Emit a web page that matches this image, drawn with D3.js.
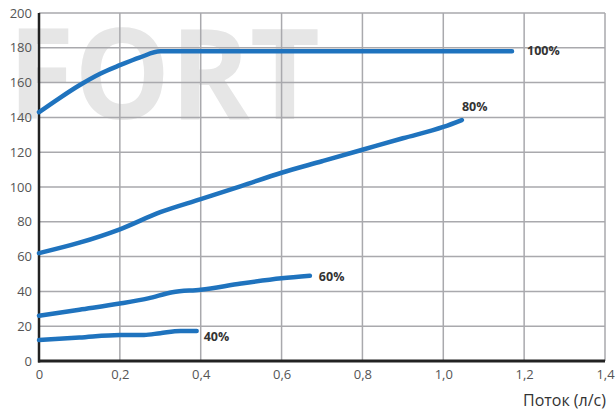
<!DOCTYPE html>
<html><head><meta charset="utf-8">
<script src="https://cdn.jsdelivr.net/npm/d3@7"></script>
<style>html,body{margin:0;padding:0;background:#fff;}svg{display:block;}</style>
</head><body>
<svg id="chart" width="616" height="410"></svg>
<script>
const xTicks = [0,0.2,0.4,0.6,0.8,1.0,1.2,1.4];
const yTicks = [0,20,40,60,80,100,120,140,160,180,200];
const seriesNames = ["100%","80%","60%","40%"];
const flow100 = [0,0.05,0.1,0.15,0.2,0.25,0.3,1.17];
const head100 = [143,151,158.5,165,170,174.5,178,178];
const flow80 = [0,0.1,0.2,0.3,0.4,0.5,0.6,0.7,0.8,0.9,1.0,1.046];
const head80 = [62,68,75.7,85.5,93,100.5,108.2,114.8,121.4,128,134.5,138.5];
const flow60 = [0,0.1,0.2,0.27,0.33,0.4,0.5,0.6,0.67];
const head60 = [26,29.5,33,36,39.5,41,44.5,47.5,49];
const flow40 = [0,0.1,0.2,0.26,0.3,0.35,0.39];
const head40 = [12,13.5,15,15,16,17.2,17.2];

const svg = d3.select("#chart");
const x = d3.scaleLinear().domain([0,1.4]).range([39,605]);
const y = d3.scaleLinear().domain([0,200]).range([361,13]);

// watermark
svg.append("text").attr("x",8).attr("y",119)
  .attr("textLength",312).attr("lengthAdjust","spacingAndGlyphs")
  .style("font-family","'Open Sans', sans-serif").style("font-weight","bold")
  .style("font-size","126px").attr("fill","#e6e6e6").text("FORT");

// grid
svg.append("g").selectAll("line").data(yTicks.filter(d=>d>0)).join("line")
  .attr("x1",x(0)).attr("x2",x(1.4)).attr("y1",d=>y(d)).attr("y2",d=>y(d))
  .attr("stroke","#a9a9ad").attr("stroke-width",1.5);
svg.append("g").selectAll("line").data(xTicks.filter(d=>d>0)).join("line")
  .attr("x1",d=>x(d)).attr("x2",d=>x(d)).attr("y1",y(0)).attr("y2",y(200))
  .attr("stroke","#a9a9ad").attr("stroke-width",1.5);

// axes
const xAxis = d3.axisBottom(x).tickValues(xTicks).tickSize(0).tickPadding(9)
  .tickFormat(d=>d3.format(".1f")(d).replace(".",",").replace(/^0,0$/,"0"));
const gx = svg.append("g").attr("transform",`translate(0,${y(0)})`).call(xAxis);
gx.select(".domain").remove();
gx.selectAll("text").style("font-family","'Open Sans', sans-serif").style("font-size","13px").attr("fill","#555");
const yAxis = d3.axisLeft(y).tickValues(yTicks).tickSize(0).tickPadding(7);
const gy = svg.append("g").attr("transform",`translate(${x(0)},0)`).call(yAxis);
gy.select(".domain").remove();
gy.selectAll("text").style("font-family","'Open Sans', sans-serif").style("font-size","13px").attr("fill","#555");

svg.append("line").attr("x1",x(0)).attr("x2",x(0)).attr("y1",y(200)).attr("y2",y(0)+1.5)
  .attr("stroke","#222").attr("stroke-width",2.5);
svg.append("line").attr("x1",x(0)-1).attr("x2",x(1.4)).attr("y1",y(0)).attr("y2",y(0))
  .attr("stroke","#222").attr("stroke-width",3);

// series
const series = [
  {name:seriesNames[0], xs:flow100, ys:head100, dx:15, dy:4},
  {name:seriesNames[1], xs:flow80, ys:head80, dx:0, dy:-9},
  {name:seriesNames[2], xs:flow60, ys:head60, dx:9, dy:5},
  {name:seriesNames[3], xs:flow40, ys:head40, dx:7, dy:10}
];
const line = d3.line().x(d=>x(d[0])).y(d=>y(d[1])).curve(d3.curveMonotoneX);
series.forEach(s=>{
  const pts = s.xs.map((v,i)=>[v,s.ys[i]]);
  svg.append("path").datum(pts).attr("d",line).attr("fill","none")
    .attr("stroke","#1f73be").attr("stroke-width",4.5).attr("stroke-linecap","round").attr("stroke-linejoin","round");
  const last = pts[pts.length-1];
  svg.append("text").attr("x",x(last[0])+s.dx).attr("y",y(last[1])+s.dy)
    .style("font-family","'Open Sans', sans-serif").style("font-weight","bold").style("font-size","12.5px")
    .attr("fill","#333").text(s.name);
});

svg.append("text").attr("x",606).attr("y",406).attr("text-anchor","end")
  .style("font-family","'Open Sans', sans-serif").style("font-size","16px").attr("fill","#333").text("Поток (л/с)");
</script>
</body></html>
